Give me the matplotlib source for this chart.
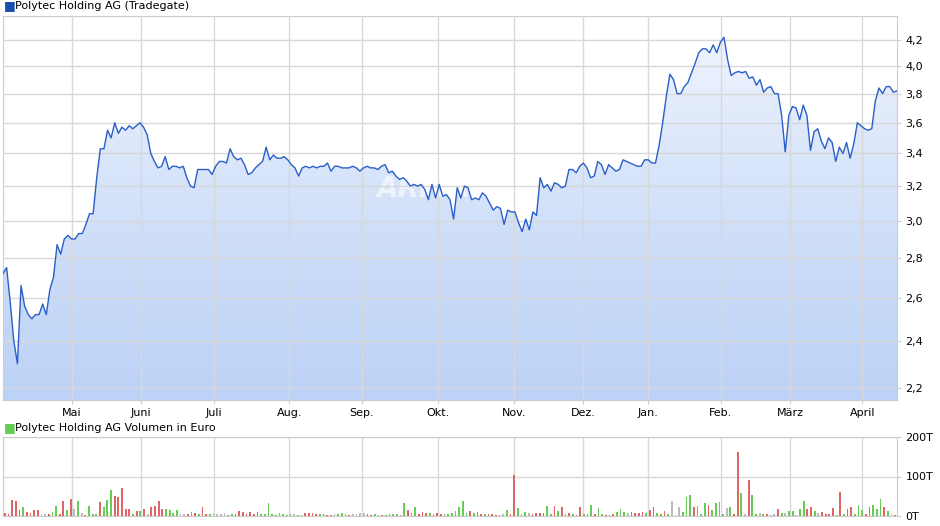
import numpy as np
import matplotlib
matplotlib.use("Agg")
import matplotlib.pyplot as plt
from matplotlib.patches import Polygon
from matplotlib.ticker import FixedLocator, NullLocator
from matplotlib.colors import LinearSegmentedColormap

prices = [2.72,2.75,2.58,2.4,2.3,2.66,2.56,2.52,2.5,2.52,2.52,2.57,2.52,2.64,2.7,2.87,2.82,2.9,2.92,2.9,
          2.9,2.93,2.93,2.98,3.04,3.04,3.25,3.43,3.43,3.55,3.5,3.6,3.53,3.57,3.55,3.58,3.56,3.58,3.6,3.57,
          3.52,3.4,3.35,3.31,3.32,3.38,3.3,3.32,3.32,3.31,3.32,3.25,3.2,3.19,3.3,3.3,3.3,3.3,3.27,3.32,
          3.35,3.35,3.34,3.43,3.38,3.36,3.37,3.33,3.27,3.28,3.31,3.33,3.35,3.44,3.36,3.39,3.37,3.37,3.38,3.36,
          3.33,3.31,3.26,3.31,3.32,3.31,3.32,3.31,3.32,3.32,3.34,3.29,3.32,3.32,3.31,3.31,3.31,3.32,3.31,3.29,
          3.31,3.32,3.31,3.31,3.3,3.32,3.33,3.28,3.29,3.26,3.24,3.25,3.23,3.2,3.21,3.2,3.21,3.18,3.12,3.21,
          3.13,3.21,3.14,3.15,3.12,3.01,3.19,3.13,3.2,3.19,3.12,3.13,3.12,3.16,3.14,3.1,3.06,3.08,3.07,2.98,
          3.06,3.05,3.05,2.99,2.94,3.01,2.95,3.05,3.03,3.25,3.19,3.21,3.17,3.22,3.21,3.19,3.2,3.3,3.3,3.28,
          3.32,3.34,3.31,3.25,3.26,3.35,3.33,3.27,3.33,3.31,3.29,3.3,3.36,3.35,3.34,3.33,3.32,3.32,3.36,3.36,
          3.34,3.34,3.45,3.6,3.78,3.94,3.9,3.8,3.8,3.85,3.88,3.95,4.02,4.1,4.13,4.13,4.1,4.16,4.1,4.18,
          4.22,4.05,3.93,3.95,3.96,3.95,3.96,3.91,3.92,3.86,3.9,3.81,3.84,3.85,3.8,3.8,3.65,3.41,3.65,3.71,
          3.7,3.62,3.72,3.65,3.42,3.54,3.56,3.48,3.43,3.5,3.47,3.35,3.44,3.4,3.47,3.37,3.46,3.6,3.58,3.56,
          3.55,3.56,3.75,3.84,3.8,3.85,3.85,3.81,3.82]

volumes = [8,6,40,37,15,22,10,8,14,14,6,6,4,10,25,6,37,14,44,17,39,8,3,25,6,5,35,22,40,67,50,47,72,17,17,4,12,12,18,5,
           22,25,39,17,18,15,8,15,5,5,6,11,7,6,22,5,5,8,6,5,7,3,5,5,13,11,5,11,5,11,5,4,33,5,3,8,5,3,5,5,
           3,3,8,7,7,5,4,5,3,3,5,5,7,4,3,5,5,8,8,4,3,4,3,3,3,4,4,4,3,32,15,7,22,4,10,8,7,5,7,5,
           5,4,7,12,22,37,7,12,7,10,5,5,5,5,3,3,4,14,5,105,19,5,10,7,5,7,7,7,25,6,25,12,23,5,7,5,3,23,5,5,
           27,5,20,5,2,3,5,10,17,10,7,10,8,8,10,8,15,22,7,5,12,5,39,3,22,10,47,54,22,25,5,32,27,15,32,35,5,19,22,5,
           162,57,5,92,54,5,7,5,5,3,5,17,8,7,12,12,3,17,37,17,23,12,8,10,5,5,20,3,62,5,17,23,5,27,15,5,23,27,17,44,
           22,12,4,3]
vol_colors = ("rrrrrgrrrr" "nnrggrrgrn" "gnrgggrggg" "rrrrrgrgrn"
              "rrrrggggnn" "rgrgrrgnnn" "nggrrrrrrr" "gggggggggn"
              "ggrrrrgrrr" "ngggrnnnnr" "rggrggggrg" "rggrrrggrr"
              "gggggggrgr" "rgrrrrngrr" "gggnrrrrgg" "rgrgrgrrgg"
              "grggrrrggg" "nrrrrgrrgg" "rgnnngggrg" "ggrggggngr"
              "rgnrggngrn" "nrgnggnggr" "rgnrrrrgrg" "rrgggrrggg"
              "rgnr")

month_labels = ["Mai","Juni","Juli","Aug.","Sep.","Okt.","Nov.","Dez.","Jan.","Feb.","März","April"]
month_idx = [20,40,61,83,104,126,148,168,187,208,228,249]
price_ticks = [2.2,2.4,2.6,2.8,3.0,3.2,3.4,3.6,3.8,4.0,4.2]
vol_ticks = [0,100,200]

NDAYS = 259
fig = plt.figure(figsize=(9.4,5.26), dpi=100)
ax = fig.add_axes([3/940, 1-400/526, 894/940, 384/526])
xs = np.linspace(0, NDAYS, len(prices))
ymin, ymax = 2.15, 4.39
ax.set_yscale('log')
ax.set_xlim(0, NDAYS)
ax.set_ylim(ymin, ymax)

grad = np.linspace(0,1,256).reshape(-1,1)
cmap = LinearSegmentedColormap.from_list('g', ['#f4f7fe', '#bcd2f6'])
im = ax.imshow(grad, extent=[0, NDAYS, ymin, ymax], aspect='auto', cmap=cmap, origin='upper', zorder=1)
poly = Polygon(np.column_stack([np.r_[xs[0], xs, xs[-1]], np.r_[ymin, prices, ymin]]), closed=True,
               facecolor='none', edgecolor='none', transform=ax.transData)
ax.add_patch(poly)
im.set_clip_path(poly)
ax.plot(xs, prices, color='#2a5fc8', lw=1.0, zorder=3)

ax.yaxis.set_major_locator(FixedLocator(price_ticks))
ax.yaxis.set_minor_locator(NullLocator())
ax.set_yticklabels([f"{t:.1f}".replace('.', ',') for t in price_ticks])
ax.yaxis.tick_right()
ax.set_xticks(month_idx)
ax.set_xticklabels(month_labels)
ax.tick_params(axis='both', labelsize=8, length=3, color='#cccccc', pad=3)
ax.grid(True, color='#d8d8d8', lw=1, zorder=2)
ax.set_axisbelow(False)
for s in ax.spines.values():
    s.set_color('#cccccc')
ax.text(0.5, 0.55, 'ARIVA.DE', transform=ax.transAxes, fontsize=20, fontweight='bold', style='italic',
        color='white', alpha=0.6, ha='center', va='center', zorder=2)

fig.text(4/940, 1-6/526, '\u25A0', color='#1a4fb0', fontsize=9, va='center', ha='left')
fig.text(15/940, 1-6/526, 'Polytec Holding AG (Tradegate)', fontsize=8, va='center', ha='left')

vx = fig.add_axes([3/940, 10/526, 894/940, 79/526])
vxs = np.linspace(0.5, NDAYS-0.5, len(volumes))
cmap_c = {'r':'#e06666','g':'#66cc55','n':'#bbbbbb'}
cols = [cmap_c[vol_colors[i]] if i < len(vol_colors) else '#bbbbbb' for i in range(len(volumes))]
vx.bar(vxs, volumes, width=0.5, color=cols, zorder=3)
vx.set_xlim(0, NDAYS)
vx.set_ylim(0, 200)
vx.set_yticks(vol_ticks)
vx.set_yticklabels([f"{t}T" for t in vol_ticks])
vx.yaxis.tick_right()
vx.set_xticks(month_idx)
vx.set_xticklabels([])
vx.tick_params(axis='both', labelsize=8, length=0, pad=3)
vx.tick_params(axis='y', length=3, color='#cccccc')
vx.grid(True, color='#d8d8d8', lw=1, zorder=0)
for s in vx.spines.values():
    s.set_color('#cccccc')
fig.text(4/940, 1-428/526, '\u25A0', color='#66cc55', fontsize=9, va='center', ha='left')
fig.text(15/940, 1-428/526, 'Polytec Holding AG Volumen in Euro', fontsize=8, va='center', ha='left')

fig.savefig('out.png', dpi=100)
